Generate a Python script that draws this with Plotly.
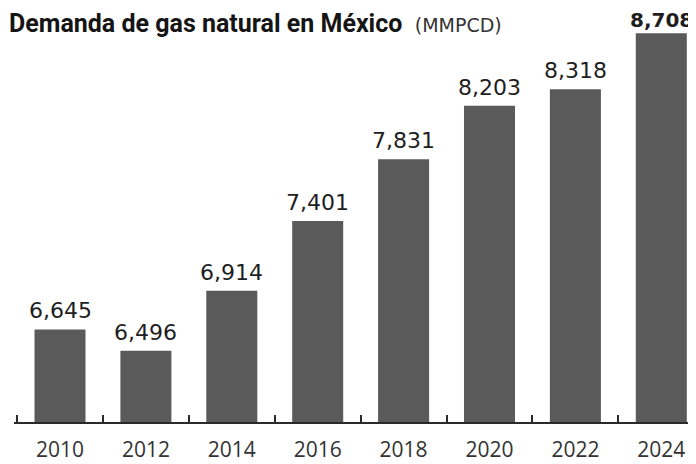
import plotly.graph_objects as go

years = ["2010", "2012", "2014", "2016", "2018", "2020", "2022", "2024"]
demand = [6645, 6496, 6914, 7401, 7831, 8203, 8318, 8708]

labels = [f"{v:,}" for v in demand]
labels[-1] = f"<b>{labels[-1]}</b>"

fig = go.Figure(
    go.Bar(
        x=years,
        y=demand,
        width=0.594,
        marker=dict(color="#5a5a5a", line=dict(width=0)),
        cliponaxis=False,
    )
)

annots = []
for i, (v, lab) in enumerate(zip(demand, labels)):
    is_bold = lab.startswith("<b>")
    annots.append(
        dict(
            x=i, y=v, xref="x", yref="y", text=lab,
            xanchor="center", yanchor="bottom",
            yshift=0 if is_bold else 5, borderpad=0,
            showarrow=False,
            font=dict(family="DejaVu Sans", size=20 if is_bold else 22,
                      color="#1e1e1e"),
        )
    )
annots.append(
    dict(
        text="<b>Demanda de gas natural en México</b>&nbsp; <span style='font-family:DejaVu Sans;font-size:19px;color:#333333'>(MMPCD)</span>",
        xref="paper", yref="paper",
        x=0, y=1.0, xanchor="left", yanchor="top",
        xshift=-6, yshift=12, borderpad=0,
        showarrow=False,
        font=dict(family="Roboto", size=25, color="#151515"),
    )
)

fig.update_layout(
    width=688,
    height=456,
    margin=dict(l=6, r=0, t=12, b=42, autoexpand=False),
    paper_bgcolor="white",
    plot_bgcolor="white",
    showlegend=False,
    font=dict(family="Open Sans", color="#222222"),
    annotations=annots,
)

fig.update_xaxes(
    type="category",
    range=[-0.5355, 7.404],
    automargin=False,
    showline=True, linecolor="#2a2a2a", linewidth=2,
    ticks="inside", tickson="boundaries", ticklen=7, tickwidth=2, tickcolor="#2a2a2a",
    tickfont=dict(family="Open Sans", size=21, color="#333333"),
    ticklabelstandoff=8,
    showgrid=False,
)
fig.update_yaxes(
    range=[6000, 8801],
    automargin=False,
    visible=False,
    showgrid=False,
)

fig.write_html("out.html")
